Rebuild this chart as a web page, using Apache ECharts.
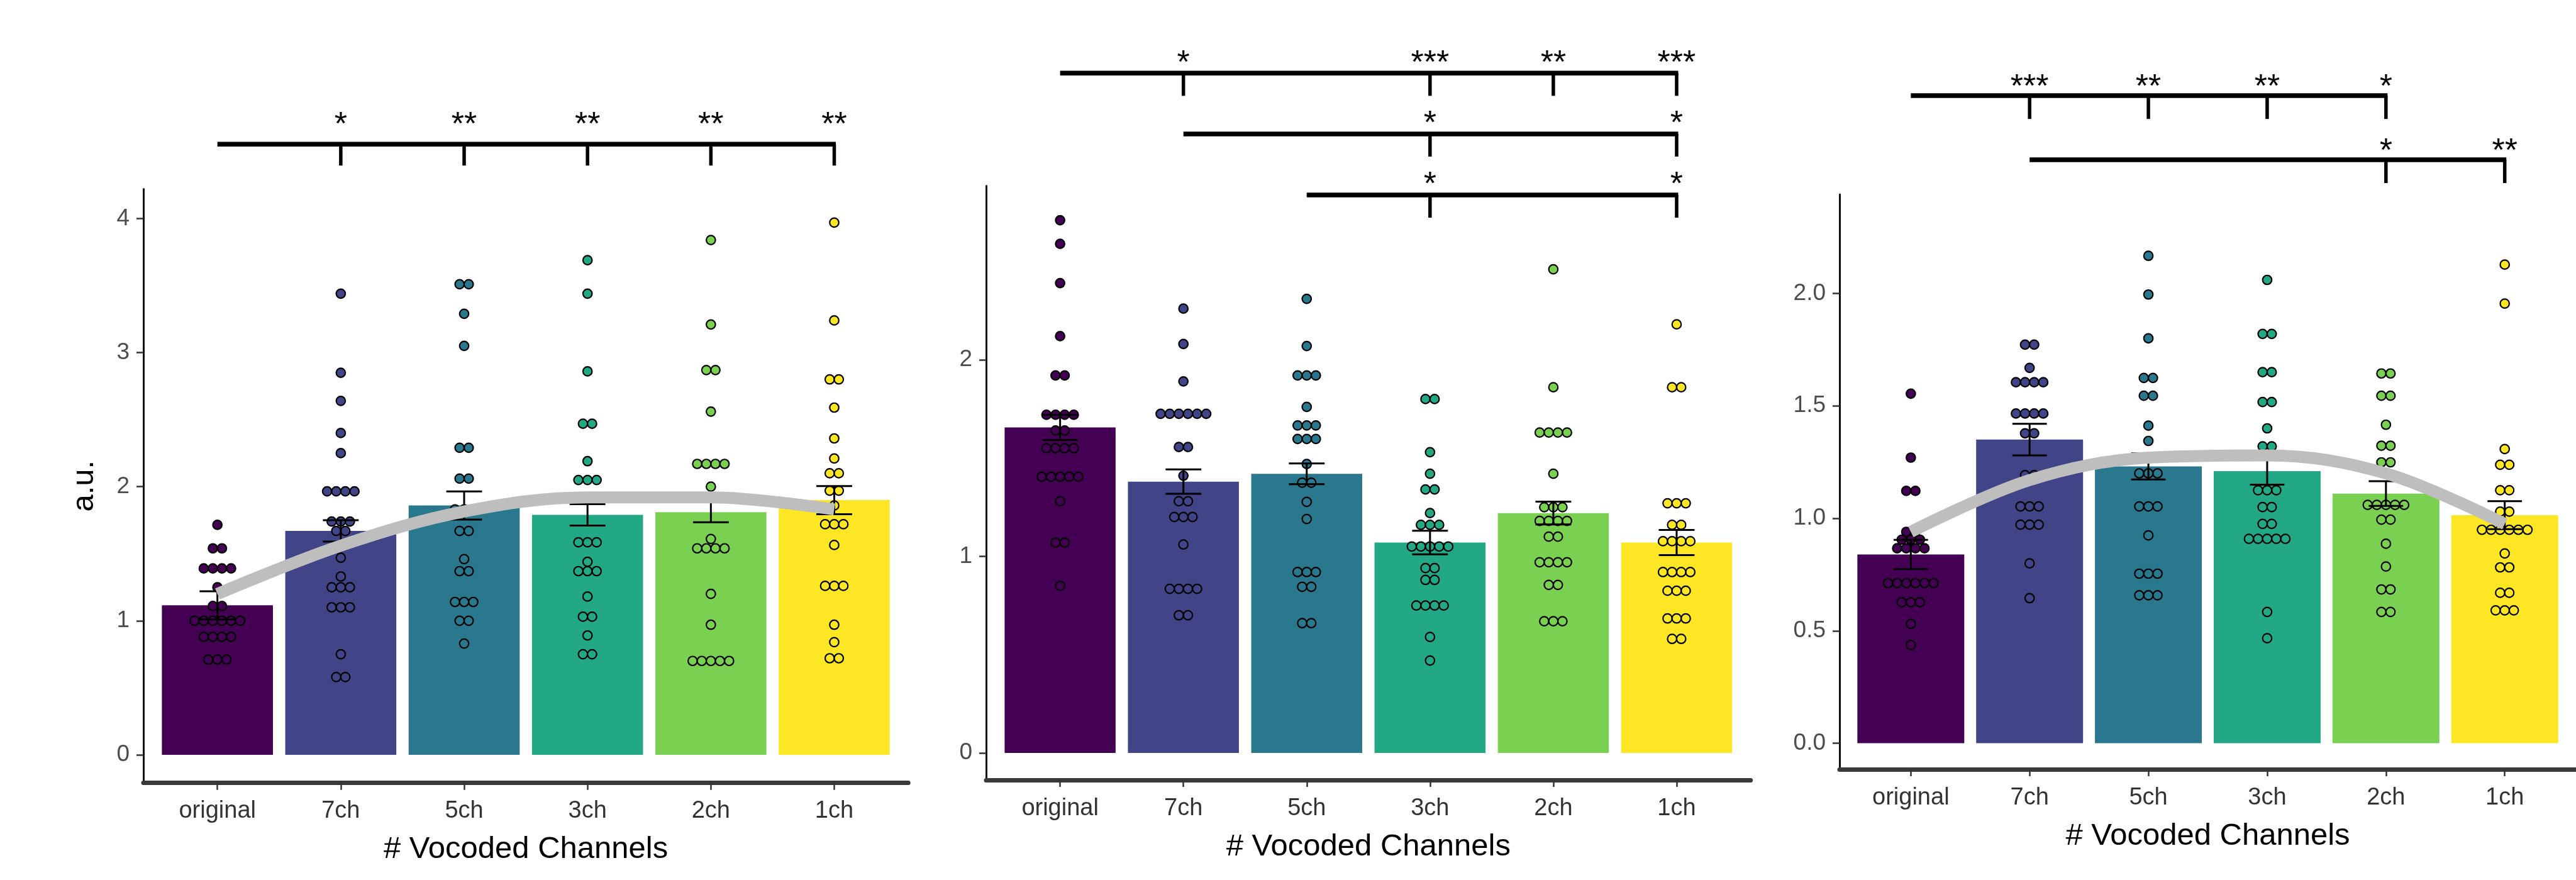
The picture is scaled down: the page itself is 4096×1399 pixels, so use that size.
<!DOCTYPE html>
<html>
<head>
<meta charset="utf-8">
<script src="https://cdn.jsdelivr.net/npm/echarts@6/dist/echarts.min.js"></script>
<style>
  html, body { margin: 0; padding: 0; background: #fff; }
  #chart { width: 4096px; height: 1399px; }
</style>
</head>
<body>
<div id="chart"></div>
<script>
const categories = ['original', '7ch', '5ch', '3ch', '2ch', '1ch']
const barColors = ['#440154', '#414487', '#2A788E', '#22A884', '#7AD151', '#FDE725']

// panel 1
const p1Means = [1.115, 1.67, 1.86, 1.79, 1.81, 1.90]
const p1Se = [0.105, 0.08, 0.105, 0.08, 0.075, 0.105]
const p1Trend = [1.20, 1.56, 1.815, 1.92, 1.92, 1.83]
const p1Points = [
  [1.715, 1.54, 1.54, 1.39, 1.39, 1.39, 1.39, 1.25, 1.11, 1.11, 1.0, 1.0, 1.0, 1.0, 1.0, 1.0, 0.88, 0.88, 0.88, 0.88, 0.71, 0.71, 0.71],
  [3.44, 2.85, 2.64, 2.40, 2.25, 1.965, 1.965, 1.965, 1.965, 1.74, 1.74, 1.74, 1.67, 1.67, 1.47, 1.33, 1.25, 1.25, 1.25, 1.10, 1.10, 1.10, 0.75, 0.58, 0.58],
  [3.51, 3.51, 3.29, 3.05, 2.29, 2.29, 2.06, 2.06, 1.83, 1.83, 1.83, 1.67, 1.67, 1.46, 1.37, 1.37, 1.14, 1.14, 1.14, 1.0, 1.0, 0.83],
  [3.69, 3.44, 2.86, 2.47, 2.47, 2.19, 2.05, 2.05, 2.05, 1.585, 1.585, 1.585, 1.44, 1.37, 1.37, 1.37, 1.18, 1.03, 1.03, 0.89, 0.75, 0.75],
  [3.84, 3.21, 2.87, 2.87, 2.56, 2.17, 2.17, 2.17, 2.17, 2.0, 1.61, 1.54, 1.54, 1.54, 1.54, 1.20, 0.97, 0.70, 0.70, 0.70, 0.70, 0.70],
  [3.97, 3.24, 2.80, 2.80, 2.59, 2.36, 2.21, 2.10, 2.10, 1.97, 1.97, 1.86, 1.72, 1.72, 1.72, 1.565, 1.26, 1.26, 1.26, 0.97, 0.84, 0.72, 0.72]
]
const p1Ticks = [0, 1, 2, 3, 4]
const p1SigLines = [[1, 6, 4.555]]
const p1SigMarks = [[2, 4.555, '*'], [3, 4.555, '**'], [4, 4.555, '**'], [5, 4.555, '**'], [6, 4.555, '**']]

// panel 2
const p2Means = [1.656, 1.38, 1.42, 1.07, 1.22, 1.07]
const p2Se = [0.064, 0.062, 0.053, 0.06, 0.058, 0.064]
const p2Points = [
  [2.71, 2.59, 2.39, 2.12, 1.92, 1.92, 1.72, 1.72, 1.72, 1.72, 1.64, 1.64, 1.55, 1.55, 1.55, 1.55, 1.405, 1.405, 1.405, 1.405, 1.405, 1.28, 1.07, 1.07, 0.85],
  [2.26, 2.08, 1.89, 1.725, 1.725, 1.725, 1.725, 1.725, 1.725, 1.556, 1.556, 1.41, 1.28, 1.28, 1.20, 1.20, 1.20, 1.06, 0.835, 0.835, 0.835, 0.835, 0.70, 0.70],
  [2.31, 2.07, 1.92, 1.92, 1.92, 1.76, 1.666, 1.666, 1.666, 1.597, 1.597, 1.597, 1.47, 1.375, 1.375, 1.277, 1.19, 0.92, 0.92, 0.92, 0.845, 0.845, 0.66, 0.66],
  [1.80, 1.80, 1.53, 1.42, 1.34, 1.34, 1.22, 1.16, 1.16, 1.16, 1.05, 1.05, 1.05, 1.05, 1.05, 0.94, 0.94, 0.88, 0.88, 0.75, 0.75, 0.75, 0.75, 0.59, 0.47],
  [2.46, 1.86, 1.63, 1.63, 1.63, 1.63, 1.42, 1.25, 1.25, 1.25, 1.18, 1.18, 1.18, 1.18, 1.10, 1.10, 0.97, 0.97, 0.97, 0.97, 0.855, 0.855, 0.67, 0.67, 0.67],
  [2.18, 1.86, 1.86, 1.27, 1.27, 1.27, 1.16, 1.16, 1.077, 1.077, 1.077, 1.077, 0.92, 0.92, 0.92, 0.92, 0.825, 0.825, 0.825, 0.684, 0.684, 0.684, 0.58, 0.58]
]
const p2Ticks = [0, 1, 2]
const p2SigLines = [[1, 6, 3.458], [2, 6, 3.149], [3, 6, 2.838]]
const p2SigMarks = [
  [2, 3.458, '*'], [4, 3.458, '***'], [5, 3.458, '**'], [6, 3.458, '***'],
  [4, 3.149, '*'], [6, 3.149, '*'],
  [4, 2.838, '*'], [6, 2.838, '*']
]

// panel 3
const p3Means = [0.839, 1.35, 1.231, 1.21, 1.11, 1.014]
const p3Se = [0.065, 0.07, 0.058, 0.06, 0.055, 0.062]
const p3Trend = [0.94, 1.17, 1.27, 1.28, 1.20, 0.975]
const p3Points = [
  [1.554, 1.27, 1.122, 1.122, 0.94, 0.94, 0.905, 0.905, 0.905, 0.867, 0.867, 0.867, 0.867, 0.712, 0.712, 0.712, 0.712, 0.712, 0.712, 0.627, 0.627, 0.627, 0.531, 0.437],
  [1.772, 1.772, 1.669, 1.605, 1.605, 1.605, 1.605, 1.466, 1.466, 1.466, 1.466, 1.378, 1.378, 1.192, 1.192, 1.053, 1.053, 1.053, 0.972, 0.972, 0.972, 0.80, 0.645],
  [2.167, 1.995, 1.80, 1.624, 1.624, 1.545, 1.545, 1.412, 1.344, 1.20, 1.20, 1.20, 1.053, 1.053, 1.053, 0.924, 0.754, 0.754, 0.754, 0.658, 0.658, 0.658],
  [2.06, 1.82, 1.82, 1.65, 1.65, 1.517, 1.517, 1.40, 1.32, 1.32, 1.125, 1.125, 1.125, 1.05, 1.05, 0.975, 0.975, 0.909, 0.909, 0.909, 0.909, 0.909, 0.584, 0.467],
  [1.644, 1.644, 1.545, 1.545, 1.416, 1.323, 1.323, 1.249, 1.249, 1.06, 1.06, 1.06, 1.06, 1.06, 0.994, 0.994, 0.887, 0.786, 0.684, 0.684, 0.584, 0.584],
  [2.128, 1.955, 1.308, 1.238, 1.238, 1.125, 1.125, 1.03, 1.03, 0.949, 0.949, 0.949, 0.949, 0.949, 0.949, 0.844, 0.782, 0.782, 0.669, 0.669, 0.591, 0.591, 0.591]
]
const p3Ticks = [0, 0.5, 1, 1.5, 2]
const p3SigLines = [[1, 5, 2.879], [2, 6, 2.594]]
const p3SigMarks = [
  [2, 2.879, '***'], [3, 2.879, '**'], [4, 2.879, '**'], [5, 2.879, '*'],
  [5, 2.594, '*'], [6, 2.594, '**']
]

const FONT = '"Liberation Sans", Arial, Helvetica, sans-serif'
const DOT_STEP = 14.5

const panels = [
  { means: p1Means, se: p1Se, trend: p1Trend, points: p1Points, ticks: p1Ticks, sigLines: p1SigLines, sigMarks: p1SigMarks,
    grid: { left: 228, top: 300.6, width: 1216.2, height: 944.1 }, yMin: -0.21, yMax: 4.22, yName: 'a.u.', digits: 0, drop: 34, gap: 40 },
  { means: p2Means, se: p2Se, trend: null, points: p2Points, ticks: p2Ticks, sigLines: p2SigLines, sigMarks: p2SigMarks,
    grid: { left: 1568, top: 295.4, width: 1215.6, height: 944.7 }, yMin: -0.138, yMax: 2.885, yName: '', digits: 0, drop: 36, gap: 25 },
  { means: p3Means, se: p3Se, trend: p3Trend, points: p3Points, ticks: p3Ticks, sigLines: p3SigLines, sigMarks: p3SigMarks,
    grid: { left: 2925, top: 309.1, width: 1185.8, height: 914 }, yMin: -0.116, yMax: 2.44, yName: '', digits: 1, drop: 37, gap: 22 }
]

// dotplot: stack equal values side by side, centred on the category
const buildDots = (groups) => {
  const out = []
  groups.forEach((vals, gi) => {
    const counts = {}
    vals.forEach(v => { counts[v] = (counts[v] || 0) + 1 })
    const seen = {}
    vals.forEach(v => {
      const k = seen[v] || 0
      seen[v] = k + 1
      const dx = (k - (counts[v] - 1) / 2) * DOT_STEP
      out.push({ value: [gi + 1, v], symbolOffset: [dx, 0], itemStyle: { color: barColors[gi] } })
    })
  })
  return out
}

const grids = []
const xAxes = []
const yAxes = []
const series = []

panels.forEach((p, pi) => {
  grids.push(p.grid)

  xAxes.push({
    type: 'value',
    gridIndex: pi,
    min: 0.4,
    max: 6.6,
    name: '# Vocoded Channels',
    nameLocation: 'middle',
    nameGap: 106,
    nameTextStyle: { fontFamily: FONT, fontSize: 49, color: '#000', verticalAlign: 'middle' },
    axisLine: { onZero: false, lineStyle: { color: '#3a3a3a', width: 7 } },
    axisTick: { customValues: [1, 2, 3, 4, 5, 6], length: 11, lineStyle: { color: '#333', width: 2.5 } },
    axisLabel: {
      customValues: [1, 2, 3, 4, 5, 6],
      formatter: v => categories[Math.round(v) - 1],
      fontFamily: FONT, fontSize: 38, color: '#333', margin: 26
    },
    splitLine: { show: false }
  })

  yAxes.push({
    type: 'value',
    gridIndex: pi,
    min: p.yMin,
    max: p.yMax,
    name: p.yName,
    nameLocation: 'middle',
    nameGap: 94,
    nameTextStyle: { fontFamily: FONT, fontSize: 49, color: '#000', verticalAlign: 'middle' },
    axisLine: { onZero: false, lineStyle: { color: '#111', width: 3 } },
    axisTick: { customValues: p.ticks, length: 11, lineStyle: { color: '#333', width: 2.5 } },
    axisLabel: {
      customValues: p.ticks,
      formatter: v => Number(v).toFixed(p.digits),
      fontFamily: FONT, fontSize: 37, color: '#4d4d4d', margin: 22
    },
    splitLine: { show: false }
  })

  // bars
  series.push({
    type: 'custom',
    xAxisIndex: pi,
    yAxisIndex: pi,
    z: 1,
    data: p.means.map((m, i) => [i + 1, m]),
    encode: { x: 0, y: 1 },
    renderItem: (params, api) => {
      const x = api.value(0)
      const y = api.value(1)
      const a = api.coord([x - 0.45, y])
      const b = api.coord([x + 0.45, 0])
      return {
        type: 'rect',
        shape: { x: a[0], y: a[1], width: b[0] - a[0], height: b[1] - a[1] },
        style: { fill: barColors[params.dataIndex] }
      }
    }
  })

  // individual points
  series.push({
    type: 'scatter',
    xAxisIndex: pi,
    yAxisIndex: pi,
    z: 2,
    symbol: 'circle',
    symbolSize: 14.5,
    itemStyle: { borderColor: '#000', borderWidth: 2.2, opacity: 1 },
    data: buildDots(p.points)
  })

  // error bars (mean +/- se)
  series.push({
    type: 'custom',
    xAxisIndex: pi,
    yAxisIndex: pi,
    z: 3,
    data: p.means.map((m, i) => [i + 1, m - p.se[i], m + p.se[i]]),
    encode: { x: 0, y: [1, 2] },
    renderItem: (params, api) => {
      const x = api.value(0)
      const lo = api.coord([x, api.value(1)])
      const hi = api.coord([x, api.value(2)])
      const half = (api.coord([x + 0.145, 0])[0] - lo[0])
      const style = { stroke: '#000', lineWidth: 3 }
      return {
        type: 'group',
        children: [
          { type: 'line', shape: { x1: lo[0], y1: lo[1], x2: hi[0], y2: hi[1] }, style },
          { type: 'line', shape: { x1: lo[0] - half, y1: lo[1], x2: lo[0] + half, y2: lo[1] }, style },
          { type: 'line', shape: { x1: hi[0] - half, y1: hi[1], x2: hi[0] + half, y2: hi[1] }, style }
        ]
      }
    }
  })

  // smoothed trend
  if (p.trend) {
    series.push({
      type: 'line',
      xAxisIndex: pi,
      yAxisIndex: pi,
      z: 4,
      smooth: 0.35,
      symbol: 'none',
      lineStyle: { color: '#bebebe', width: 19, cap: 'butt' },
      data: p.trend.map((v, i) => [i + 1, v])
    })
  }

  // significance brackets
  series.push({
    type: 'custom',
    xAxisIndex: pi,
    yAxisIndex: pi,
    z: 5,
    clip: false,
    data: p.sigLines,
    encode: { x: [0, 1], y: 2 },
    renderItem: (params, api) => {
      const a = api.coord([api.value(0), api.value(2)])
      const b = api.coord([api.value(1), api.value(2)])
      return {
        type: 'line',
        shape: { x1: a[0], y1: a[1], x2: b[0] + 2.5, y2: b[1] },
        style: { stroke: '#000', lineWidth: 7.5 }
      }
    }
  })

  series.push({
    type: 'custom',
    xAxisIndex: pi,
    yAxisIndex: pi,
    z: 5,
    clip: false,
    data: p.sigMarks.map(m => [m[0], m[1]]),
    encode: { x: 0, y: 1 },
    renderItem: (params, api) => {
      const c = api.coord([api.value(0), api.value(1)])
      return {
        type: 'group',
        children: [
          { type: 'line', shape: { x1: c[0], y1: c[1], x2: c[0], y2: c[1] + p.drop }, style: { stroke: '#000', lineWidth: 5.5 } },
          {
            type: 'text',
            style: {
              x: c[0], y: c[1] - p.gap + 10,
              text: p.sigMarks[params.dataIndex][2],
              fontFamily: FONT, fontSize: 52, fill: '#000',
              align: 'center', verticalAlign: 'middle'
            }
          }
        ]
      }
    }
  })
})

const chart = echarts.init(document.getElementById('chart'))
chart.setOption({
  animation: false,
  backgroundColor: '#fff',
  grid: grids,
  xAxis: xAxes,
  yAxis: yAxes,
  series
})
</script>
</body>
</html>
